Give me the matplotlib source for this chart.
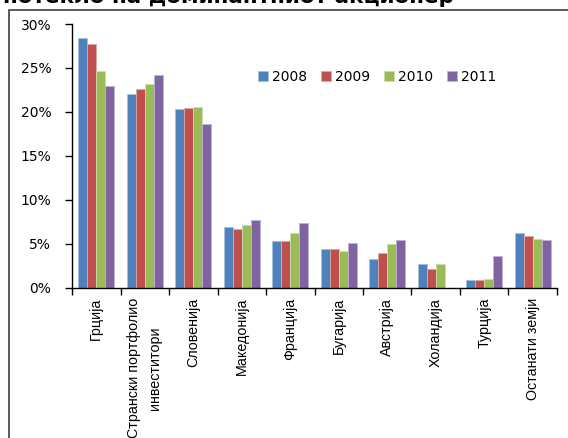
import numpy as np
import matplotlib.pyplot as plt
from matplotlib.patches import Rectangle
from matplotlib import font_manager

# categories and shares (%)
countries = ["Грција", "Странски портфолио\nинвеститори", "Словенија", "Македонија",
             "Франција", "Бугарија", "Австрија", "Холандија", "Турција", "Останати земји"]
years = ["2008", "2009", "2010", "2011"]
y2008 = [28.4, 22.0, 20.3, 6.9, 5.35, 4.4, 3.3, 2.7, 0.87, 6.3]
y2009 = [27.7, 22.6, 20.45, 6.7, 5.35, 4.4, 4.0, 2.2, 0.87, 5.95]
y2010 = [24.7, 23.2, 20.6, 7.15, 6.3, 4.25, 5.0, 2.7, 1.0, 5.6]
y2011 = [23.0, 24.2, 18.65, 7.7, 7.4, 5.1, 5.4, np.nan, 3.65, 5.4]
yticks = [0, 5, 10, 15, 20, 25, 30]

colors = ["#4F81BD", "#C0504D", "#9BBB59", "#8064A2"]
edges = ["#A7C0DE", "#E0A8A6", "#CDDDAC", "#BFB1D0"]

names = {f.name for f in font_manager.fontManager.ttflist}
narrow = "Liberation Sans Narrow" if "Liberation Sans Narrow" in names else "Liberation Sans"

fig = plt.figure(figsize=(5.68, 4.38), dpi=100)
ax = fig.add_axes([0.1268, 0.3425, 0.8538, 0.6027])

x = np.arange(len(countries))
w = 0.186
for i, (vals, c, e, lab) in enumerate(zip([y2008, y2009, y2010, y2011], colors, edges, years)):
    ax.bar(x + (i - 1.5) * w, vals, width=w, color=c, edgecolor=e, linewidth=0.6, label=lab)

ax.set_xlim(-0.5, len(countries) - 0.5)
ax.set_ylim(0, 30)
ax.set_yticks(yticks)
ax.set_yticklabels([f"{t}%" for t in yticks], fontsize=10, family="DejaVu Sans")
ax.set_xticks(np.arange(len(countries) + 1) - 0.5)
ax.set_xticklabels([])
ax.tick_params(axis="both", direction="out", length=5, width=1, color="black")
ax.tick_params(axis="y", pad=10)
for s in ["top", "right"]:
    ax.spines[s].set_visible(False)
for s in ["left", "bottom"]:
    ax.spines[s].set_linewidth(1)

for xi, name in zip(x, countries):
    ax.text(xi, -1.1, name, rotation=90, ha="center", va="top", multialignment="center",
            fontsize=10.3, family=narrow, linespacing=1.6)

fig.legend(loc="center", bbox_to_anchor=(0.664, 0.824), ncol=4, frameon=False,
           handlelength=0.7, handleheight=0.7, handletextpad=0.3,
           columnspacing=1.0, prop={"family": "DejaVu Sans", "size": 10})

# outer chart frame (clipped by the image edges)
fig.patches.append(Rectangle((9 / 568, -0.2), 1.2, 1 - 10 / 438 + 0.2, transform=fig.transFigure,
                             fill=False, edgecolor="#404040", linewidth=1.2))

# title, mostly cut off at the top of the image
fig.text(3 / 568, 1 - 3 / 438, "потекло на доминантниот акционер", ha="left", va="baseline",
         fontsize=15.5, fontweight="bold", family="DejaVu Sans")

fig.savefig("out.png", dpi=100)
